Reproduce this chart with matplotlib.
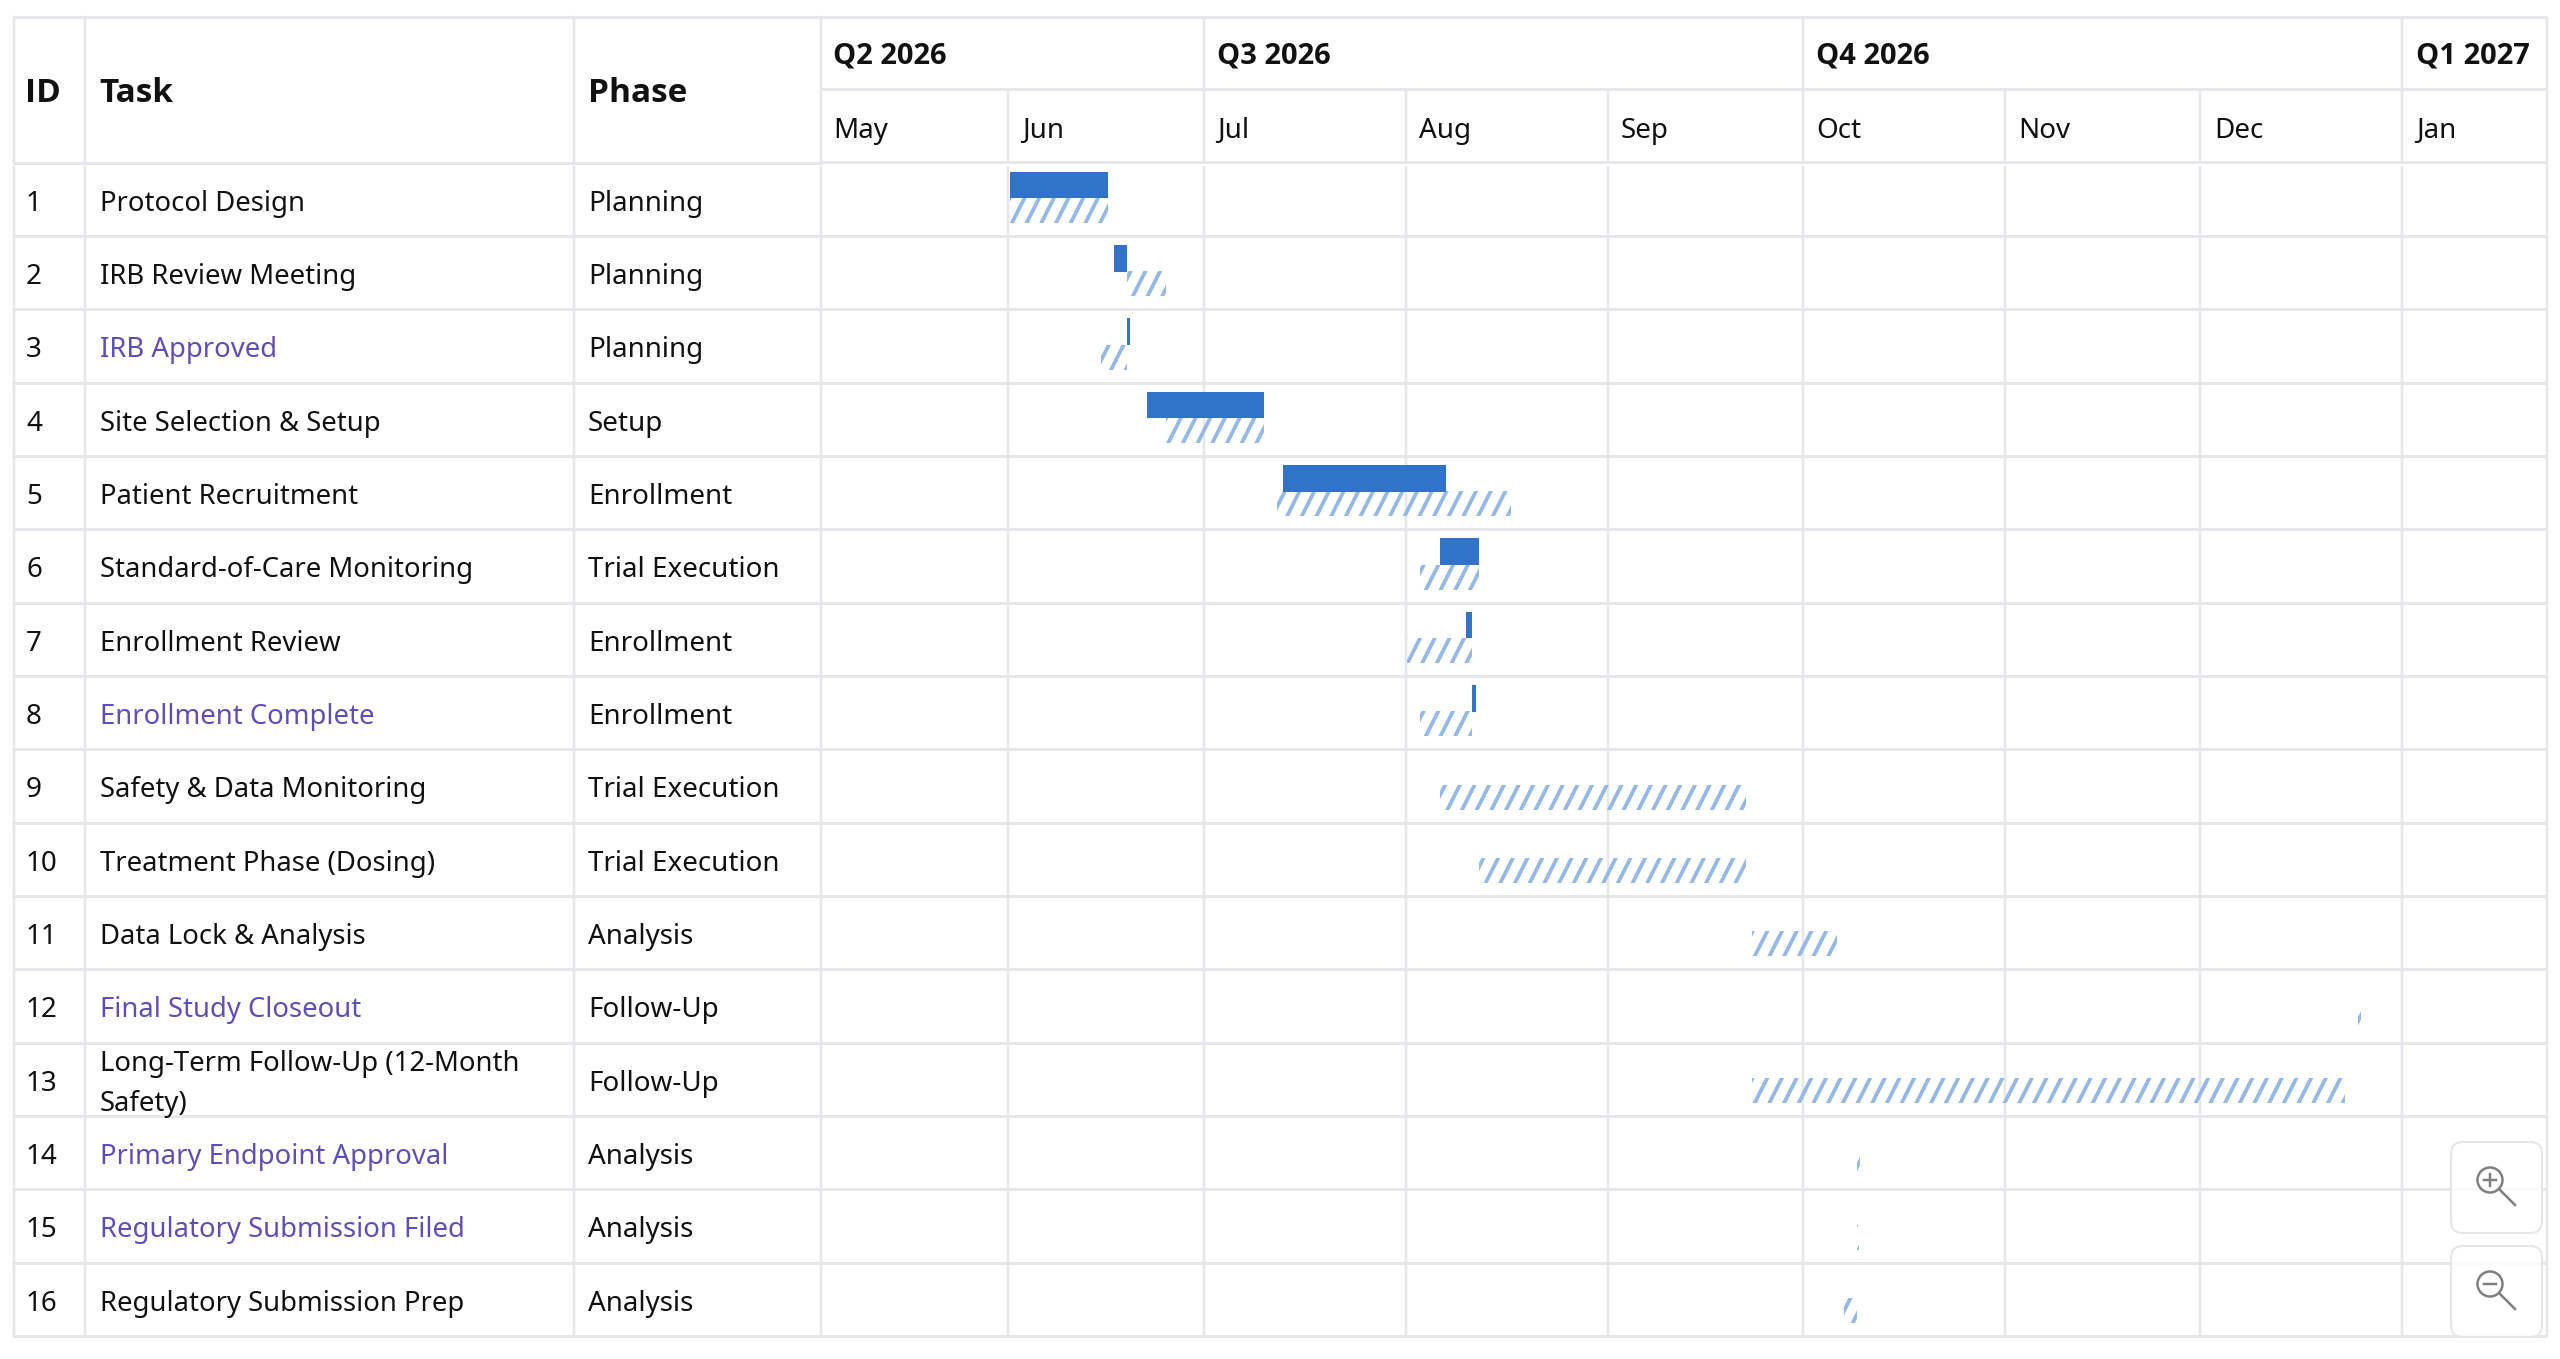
import numpy as np
import pandas as pd
import matplotlib
matplotlib.use('Agg')
import matplotlib.pyplot as plt
import matplotlib.dates as mdates
from matplotlib.collections import LineCollection
from matplotlib.patches import Circle, FancyBboxPatch

plt.rcParams['font.family'] = ['Noto Sans', 'DejaVu Sans']

# table contents
ids = list(range(1, 17))
tasks = ['Protocol Design', 'IRB Review Meeting', 'IRB Approved', 'Site Selection & Setup',
         'Patient Recruitment', 'Standard-of-Care Monitoring', 'Enrollment Review',
         'Enrollment Complete', 'Safety & Data Monitoring', 'Treatment Phase (Dosing)',
         'Data Lock & Analysis', 'Final Study Closeout', 'Long-Term Follow-Up (12-Month\nSafety)',
         'Primary Endpoint Approval', 'Regulatory Submission Filed', 'Regulatory Submission Prep']
phases = ['Planning', 'Planning', 'Planning', 'Setup', 'Enrollment', 'Trial Execution',
          'Enrollment', 'Enrollment', 'Trial Execution', 'Trial Execution', 'Analysis',
          'Follow-Up', 'Follow-Up', 'Analysis', 'Analysis', 'Analysis']
milestones = [3, 8, 12, 14, 15]

# timeline header
quarters = ['Q2 2026', 'Q3 2026', 'Q4 2026', 'Q1 2027']
quarter_starts = ['2026-05-03', '2026-07-01', '2026-10-01', '2027-01-01']
months = ['May', 'Jun', 'Jul', 'Aug', 'Sep', 'Oct', 'Nov', 'Dec', 'Jan']
month_starts = ['2026-05-03', '2026-06-01', '2026-07-01', '2026-08-01', '2026-09-01',
                '2026-10-01', '2026-11-01', '2026-12-01', '2027-01-01']
timeline_end = '2027-01-23'

# solid bars: row id, start, end
solid_rows = [1, 2, 3, 4, 5, 6, 7, 8]
solid_start = ['2026-06-01', '2026-06-17', '2026-06-19', '2026-06-22',
               '2026-07-13', '2026-08-06', '2026-08-10', '2026-08-11']
solid_end = ['2026-06-16', '2026-06-19', '2026-06-19 12:00', '2026-07-10',
             '2026-08-07', '2026-08-12', '2026-08-11', '2026-08-11 12:00']

# hatched bars, one per row
hatch_start = ['2026-06-01', '2026-06-19', '2026-06-15', '2026-06-25', '2026-07-12', '2026-08-03',
               '2026-08-01', '2026-08-03', '2026-08-06', '2026-08-12', '2026-09-23', '2026-12-25',
               '2026-09-23', '2026-10-09', '2026-10-09', '2026-10-07']
hatch_end = ['2026-06-16', '2026-06-25', '2026-06-19', '2026-07-10', '2026-08-17', '2026-08-12',
             '2026-08-11', '2026-08-11', '2026-09-22', '2026-09-22', '2026-10-06', '2026-12-25 12:00',
             '2026-12-23', '2026-10-09 12:00', '2026-10-09 09:00', '2026-10-09']

# where the first stripe starts inside each hatched bar, in pixels
stripe_phase = [2, 5.6, 10, 2, 10, 5.7, 0.3, 5.4, 7.6, 6.7, 2.2, 10.3, 2.2, 10.3, 2, 9]

W, H = 2560, 1359
TOP, HEAD, BOTTOM = 162.5, 89, 1336
ROW_H = (BOTTOM - TOP) / 16
LEFT, RIGHT = 821, 2547
col_lines = [14, 85, 574, 821]
PX = 0.72  # one pixel in points at dpi 100

GRID = '#e5e7eb'
BAR = '#3073c8'
STRIPE = '#94b9e6'
TEXT = '#111111'
PURPLE = '#5d4fb9'
BOLD = ['Open Sans', 'DejaVu Sans']


def nums(dates):
    return mdates.date2num(pd.to_datetime(dates, format='mixed'))


fig = plt.figure(figsize=(W / 100, H / 100), dpi=100, facecolor='white')

# chart part, x in dates and y in rows
ax = fig.add_axes([LEFT / W, 1 - BOTTOM / H, (RIGHT - LEFT) / W, (BOTTOM - TOP) / H], zorder=1)
ax.set_xlim(nums(month_starts)[0], nums([timeline_end])[0])
ax.set_ylim(16, 0)
ax.axis('off')
px_per_day = (RIGHT - LEFT) / (ax.get_xlim()[1] - ax.get_xlim()[0])

# overlay in pixels for the left columns and the zoom buttons
ov = fig.add_axes([0, 0, 1, 1], zorder=2)
ov.set_xlim(0, W)
ov.set_ylim(H, 0)
ov.axis('off')
ov.patch.set_alpha(0)

# grid of the chart, cell borders sit a little left of the month start
grid_shift = 1.5 / px_per_day
month_x = nums(month_starts)
quarter_x = nums(quarter_starts)
head_top = (17 - TOP) / ROW_H
head_mid = (HEAD - TOP) / ROW_H
ax.vlines(month_x[1:] - grid_shift, 0.05, 16, color=GRID, lw=2.5 * PX, zorder=1)
ax.vlines(month_x[1:] - grid_shift, head_mid, 0, color=GRID, lw=2.5 * PX, zorder=1, clip_on=False)
ax.vlines(quarter_x[1:] - grid_shift, head_top, head_mid, color=GRID, lw=2.5 * PX, zorder=1, clip_on=False)
ax.vlines(ax.get_xlim()[1], head_top, 16, color=GRID, lw=2.5 * PX, zorder=1, clip_on=False)
ax.hlines([head_top, head_mid], *ax.get_xlim(), color=GRID, lw=3 * PX, zorder=1, clip_on=False)
ax.hlines(np.arange(0, 17), *ax.get_xlim(), color=GRID, lw=3 * PX, zorder=1, clip_on=False)

# timeline labels
for lab, x in zip(quarters, quarter_x):
    ax.annotate(lab, (x, (head_top + head_mid) / 2), xytext=(12, -3), textcoords='offset pixels',
                fontsize=21, fontweight='bold', family=BOLD, color=TEXT, va='center', annotation_clip=False)
for lab, x in zip(months, month_x):
    ax.annotate(lab, (x, head_mid / 2), xytext=(12, -5), textcoords='offset pixels',
                fontsize=20, color=TEXT, va='center', annotation_clip=False)

# solid bars, upper part of the row
solid_y = np.array(solid_rows) - 1 + 22.5 / ROW_H
ax.barh(solid_y, nums(solid_end) - nums(solid_start), left=nums(solid_start),
        height=26.5 / ROW_H, color=BAR, zorder=3)

# hatched bars, lower part of the row
band_top, band_bot = 35.5 / ROW_H, 60.5 / ROW_H
period = 14.7 / px_per_day
slant = 12.6 / px_per_day
hs = nums(hatch_start)
he = nums(hatch_end)
for i in range(16):
    box = ax.barh(i + (band_top + band_bot) / 2, he[i] - hs[i], left=hs[i],
                  height=band_bot - band_top, facecolor='none', edgecolor='none')[0]
    first = hs[i] + stripe_phase[i] / px_per_day - 2 * period
    xb = np.arange(first, he[i] + period, period)
    segs = [[(x, i + band_bot), (x + slant, i + band_top)] for x in xb]
    lines = LineCollection(segs, colors=STRIPE, linewidths=3.8 * PX, zorder=2.5, capstyle='projecting')
    ax.add_collection(lines)
    lines.set_clip_path(box)

# left columns
for x in col_lines:
    ov.plot([x, x], [17, TOP], color=GRID, lw=2.5 * PX, zorder=1)
    ov.plot([x, x], [TOP + 4, BOTTOM], color=GRID, lw=2.5 * PX, zorder=1)
ov.plot([col_lines[0], LEFT], [17, 17], color=GRID, lw=3 * PX, zorder=1)
for i in range(17):
    ov.plot([col_lines[0], LEFT], [TOP + i * ROW_H] * 2, color=GRID, lw=3 * PX, zorder=1)

for lab, x in zip(['ID', 'Task', 'Phase'], [25, 99, 588]):
    ov.text(x, 94, lab, fontsize=24, fontweight='bold', family=BOLD, color=TEXT, va='center')

for i in range(16):
    y = TOP + (i + 0.5) * ROW_H + 4.5
    ov.text(26, y, str(ids[i]), fontsize=20, color=TEXT, va='center')
    col = PURPLE if ids[i] in milestones else TEXT
    ov.text(100, y, tasks[i], fontsize=19.8, color=col, va='center', linespacing=1.55)
    ov.text(588, y, phases[i], fontsize=20, color=TEXT, va='center')

# zoom buttons
for top, bot, sign in [(1142, 1233, '+'), (1246, 1337, '-')]:
    ov.add_patch(FancyBboxPatch((2451 + 10, top + 10), 91 - 20, bot - top - 20,
                                boxstyle='round,pad=10,rounding_size=12',
                                facecolor=(1, 1, 1, 0.85), edgecolor='#e6e6e6', lw=2 * PX, zorder=5))
    cy = top + 38
    ov.add_patch(Circle((2490, cy), 12.5, facecolor='none', edgecolor='#808080', lw=2.5 * PX, zorder=6))
    ov.plot([2499, 2515], [cy + 9, cy + 25], color='#808080', lw=2.5 * PX, zorder=6)
    ov.plot([2484, 2496], [cy, cy], color='#808080', lw=2.5 * PX, zorder=6)
    if sign == '+':
        ov.plot([2490, 2490], [cy - 6, cy + 6], color='#808080', lw=2.5 * PX, zorder=6)

fig.savefig('out.png', dpi=100)
